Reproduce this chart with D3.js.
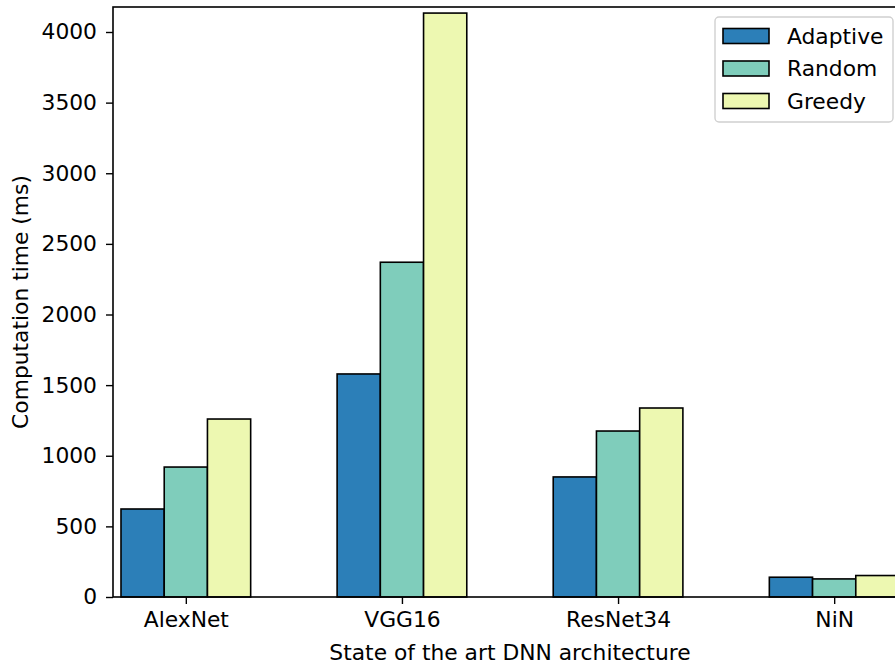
<!DOCTYPE html>
<html>
<head>
<meta charset="utf-8">
<script src="https://cdn.jsdelivr.net/npm/d3@7/dist/d3.min.js"></script>
<style>
  html, body { margin: 0; padding: 0; background: #fff; }
  svg { display: block; font-family: "DejaVu Sans", sans-serif; }
</style>
</head>
<body>
<svg id="chart" width="895" height="666"></svg>
<script>
// DNN architectures and the computation time (ms) of each partitioning strategy
const categories = ["AlexNet", "VGG16", "ResNet34", "NiN"];
const seriesNames = ["Adaptive", "Random", "Greedy"];
const adaptive = [623, 1579, 850, 140];
const random = [920, 2370, 1175, 128];
const greedy = [1260, 4134, 1338, 152];
const yTicks = [0, 500, 1000, 1500, 2000, 2500, 3000, 3500, 4000];
const colors = ["#2c7fb8", "#7fcdbb", "#edf8b1"];

const series = [adaptive, random, greedy];

const svg = d3.select("#chart");
const margin = { left: 113, top: 7, right: 907, bottom: 597 };
const fontSize = 21.8;

// group index -> horizontal position
const x = d3.scaleLinear().domain([-0.337, categories.length - 1 + 0.337])
  .range([margin.left, margin.right]);
const y = d3.scaleLinear().domain([0, 4177]).range([margin.bottom, margin.top]);
const barW = 0.2;

// bars
series.forEach((vals, s) => {
  svg.append("g").selectAll("rect").data(vals).join("rect")
    .attr("x", (d, i) => x(i + (s - 1) * barW - barW / 2))
    .attr("width", (d, i) => x(i + (s - 1) * barW + barW / 2) - x(i + (s - 1) * barW - barW / 2))
    .attr("y", d => y(d))
    .attr("height", d => y(0) - y(d))
    .attr("fill", colors[s])
    .attr("stroke", "#000")
    .attr("stroke-width", 1.6);
});

// axes
const xAxis = d3.axisBottom(x)
  .tickValues(d3.range(categories.length))
  .tickFormat(i => categories[i])
  .tickSize(7).tickPadding(8);
const yAxis = d3.axisLeft(y).tickValues(yTicks).tickFormat(d3.format("d"))
  .tickSize(7).tickPadding(9);

const gx = svg.append("g").attr("transform", `translate(0,${margin.bottom})`).call(xAxis);
const gy = svg.append("g").attr("transform", `translate(${margin.left},0)`).call(yAxis);
[gx, gy].forEach(g => {
  g.select(".domain").remove();
  g.selectAll(".tick line").attr("stroke", "#000").attr("stroke-width", 1.4);
  g.selectAll(".tick text").attr("fill", "#000")
    .style("font-size", fontSize + "px").style("font-family", "DejaVu Sans");
});

// frame
svg.append("rect")
  .attr("x", margin.left).attr("y", margin.top)
  .attr("width", margin.right - margin.left).attr("height", margin.bottom - margin.top)
  .attr("fill", "none").attr("stroke", "#000").attr("stroke-width", 1.6);

// axis titles
svg.append("text")
  .attr("x", (margin.left + margin.right) / 2).attr("y", 660)
  .attr("text-anchor", "middle").style("font-size", fontSize + "px")
  .text("State of the art DNN architecture");
svg.append("text")
  .attr("transform", `translate(28,${(margin.top + margin.bottom) / 2}) rotate(-90)`)
  .attr("text-anchor", "middle").style("font-size", fontSize + "px")
  .text("Computation time (ms)");

// legend
const lg = svg.append("g");
lg.append("rect")
  .attr("x", 715).attr("y", 17).attr("width", 178).attr("height", 105)
  .attr("rx", 4).attr("fill", "#fff").attr("fill-opacity", 0.8)
  .attr("stroke", "#d0d0d0").attr("stroke-width", 1.4);
seriesNames.forEach((name, s) => {
  const cy = 36 + s * 32.5;
  lg.append("rect")
    .attr("x", 723).attr("y", cy - 7.5).attr("width", 46).attr("height", 15)
    .attr("fill", colors[s]).attr("stroke", "#000").attr("stroke-width", 1.6);
  lg.append("text")
    .attr("x", 787).attr("y", cy).attr("dy", "0.36em")
    .style("font-size", fontSize + "px").text(name);
});
</script>
</body>
</html>
